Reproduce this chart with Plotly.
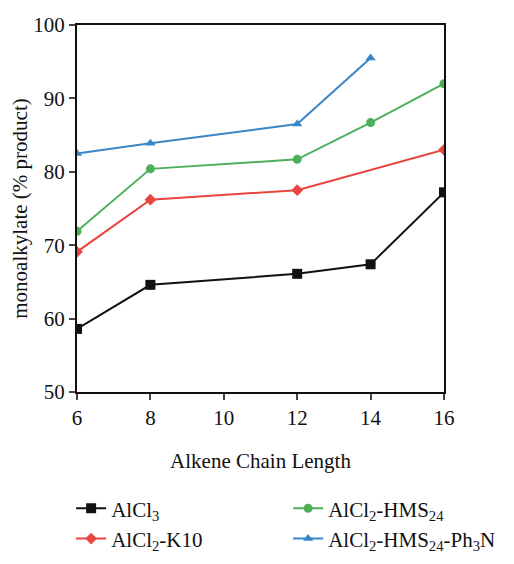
import plotly.graph_objects as go

chain_length = [6, 8, 12, 14, 16]
alcl3 = [58.6, 64.6, 66.1, 67.4, 77.2]
k10_x = [6, 8, 12, 16]
k10 = [69.1, 76.2, 77.5, 83.0]
hms24 = [71.9, 80.4, 81.7, 86.7, 92.0]
ph3n_x = [6, 8, 12, 14]
ph3n = [82.5, 83.9, 86.5, 95.5]
x_ticks = [6, 8, 10, 12, 14, 16]
y_ticks = [50, 60, 70, 80, 90, 100]

FONT = "Liberation Serif"

fig = go.Figure()
fig.add_trace(go.Scatter(x=chain_length, y=alcl3, mode="lines+markers", name="AlCl<sub>3</sub>",
                         line=dict(color="#111111", width=2), marker=dict(symbol="square", size=10, color="#111111")))
fig.add_trace(go.Scatter(x=chain_length, y=hms24, mode="lines+markers", name="AlCl<sub>2</sub>-HMS<sub>24</sub>",
                         line=dict(color="#4daf5a", width=2), marker=dict(symbol="circle", size=9, color="#4daf5a")))
fig.add_trace(go.Scatter(x=k10_x, y=k10, mode="lines+markers", name="AlCl<sub>2</sub>-K10",
                         line=dict(color="#e8453f", width=2), marker=dict(symbol="diamond", size=9, color="#e8453f")))
fig.add_trace(go.Scatter(x=ph3n_x, y=ph3n, mode="lines+markers", name="AlCl<sub>2</sub>-HMS<sub>24</sub>-Ph<sub>3</sub>N",
                         line=dict(color="#3a86c8", width=2), marker=dict(symbol="triangle-up", size=9, color="#3a86c8")))

fig.update_layout(
    width=506, height=556,
    margin=dict(l=69, r=70, t=17, b=172, autoexpand=False),
    paper_bgcolor="white", plot_bgcolor="white",
    font=dict(family=FONT, size=21, color="#111111"),
    showlegend=True,
    legend=dict(orientation="h", x=-0.016, xanchor="left", y=-0.262, yanchor="top",
                entrywidth=172, entrywidthmode="pixels", font=dict(family=FONT, size=21, color="#111111"),
                bgcolor="rgba(0,0,0,0)"),
)
fig.update_xaxes(range=[6, 16], tickvals=x_ticks, ticks="outside", ticklen=6, tickwidth=1.5,
                 showline=True, linecolor="#111111", linewidth=2, mirror=True, showgrid=False, zeroline=False,
                 automargin=False,
                 title=dict(text="Alkene Chain Length", font=dict(family=FONT, size=21), standoff=24),
                 tickfont=dict(family=FONT, size=21, color="#111111"))
fig.update_yaxes(range=[50, 100], tickvals=y_ticks, ticks="outside", ticklen=6, tickwidth=1.5,
                 showline=True, linecolor="#111111", linewidth=2, mirror=True, showgrid=False, zeroline=False,
                 automargin=False,
                 title=dict(text="monoalkylate (% product)", font=dict(family=FONT, size=21), standoff=0),
                 tickfont=dict(family=FONT, size=21, color="#111111"))

fig.write_html("out.html")
